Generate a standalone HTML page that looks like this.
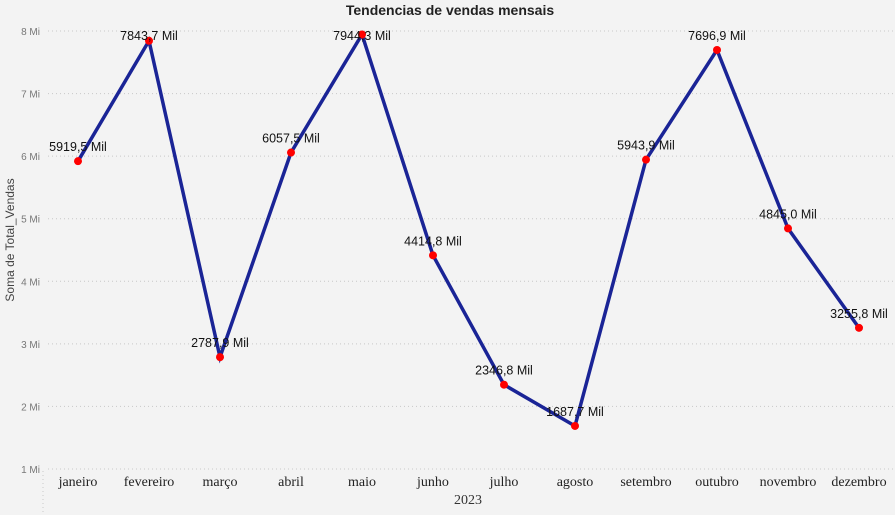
<!DOCTYPE html>
<html><head><meta charset="utf-8"><style>
html,body{margin:0;padding:0;background:#f3f3f3;}
svg{display:block;}
</style></head><body>
<svg id="chart" width="895" height="515" xmlns="http://www.w3.org/2000/svg">
<rect width="895" height="515" fill="#f3f3f3"/>
<text x="450" y="15" text-anchor="middle" font-family="Liberation Sans, sans-serif" font-weight="bold" font-size="14" fill="#222">Tendencias de vendas mensais</text>
<text transform="translate(14,240) rotate(-90)" text-anchor="middle" font-family="Liberation Sans, sans-serif" font-size="12" fill="#444">Soma de Total_Vendas</text>
<text x="468" y="504" text-anchor="middle" font-family="Liberation Serif, serif" font-size="14" fill="#333">2023</text>
<line x1="43" y1="471" x2="43" y2="515" stroke="#c8c8c8" stroke-dasharray="1,3"/>
<g id="grid"></g><g id="ylabels"></g><g id="xlabels"></g><g id="series"></g>
</svg>
<script>
const months=["janeiro","fevereiro","março","abril","maio","junho","julho","agosto","setembro","outubro","novembro","dezembro"];
const sales=[5919.5,7843.7,2787.9,6057.5,7944.3,4414.8,2346.8,1687.7,5943.9,7696.9,4845.0,3255.8];
const yTicks=[1,2,3,4,5,6,7,8];
const NS="http://www.w3.org/2000/svg";
function x(i){return 78+i*71;}
function y(mil){return 469-(mil/1000-1)*62.57;}
function yt(m){return 469-(m-1)*62.57;}
function mk(tag,attrs,parent,txt){const e=document.createElementNS(NS,tag);for(const k in attrs)e.setAttribute(k,attrs[k]);if(txt!==undefined)e.textContent=txt;document.getElementById(parent).appendChild(e);return e;}
yTicks.forEach(t=>{
  const l=mk("line",{x1:48,x2:895,y1:yt(t),y2:yt(t),stroke:"#c8c8c8","stroke-dasharray":"1,3"},"grid");
  
  
  const tx=mk("text",{x:40,y:yt(t)+4,"text-anchor":"end","font-family":"Liberation Sans, sans-serif","font-size":"10",fill:"#777"},"ylabels",t+" Mi");
  
  
});
months.forEach((m,i)=>{
  const tx=mk("text",{x:x(i),y:486,"text-anchor":"middle","font-family":"Liberation Serif, serif","font-size":"14",fill:"#222"},"xlabels",m);
  
  
});
const pts=sales.map((v,i)=>x(i)+","+y(v)).join(" ");
const pl=mk("polyline",{points:pts,fill:"none",stroke:"#1a2496","stroke-width":"3.5","stroke-linejoin":"miter"},"series");


sales.forEach((v,i)=>{
  const c=mk("circle",{cx:x(i),cy:y(v),r:4,fill:"#ff0000"},"series");
  
  
  const lbl=v.toFixed(1).replace(".",",")+" Mil";
  const t=mk("text",{x:x(i),y:Math.max(y(v)-10,40),"text-anchor":"middle","font-family":"Liberation Sans, sans-serif","font-size":"12.5",fill:"#111"},"series",lbl);
  
  
});
</script>
</body></html>
